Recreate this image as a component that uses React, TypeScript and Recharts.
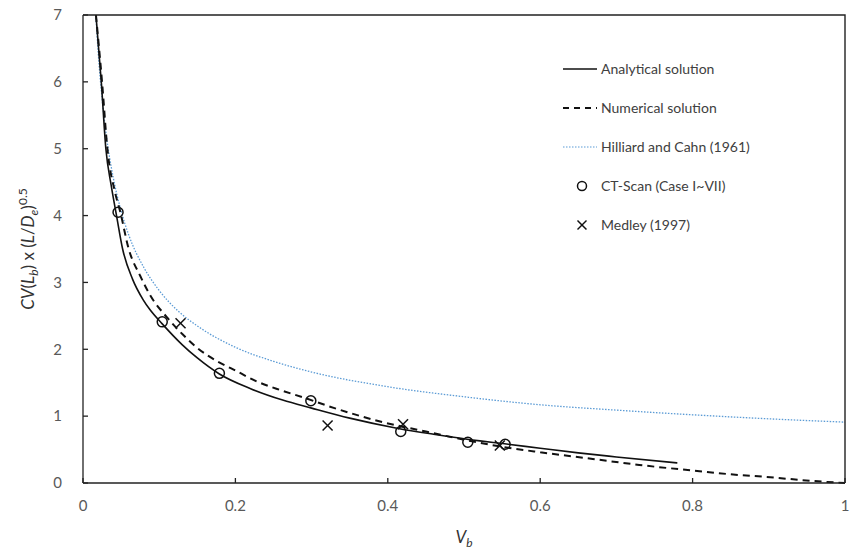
import React from 'react';
import {
  ComposedChart, Line, Scatter, XAxis, YAxis,
} from 'recharts';

// Analytical solution (solid line)
const analyticalVb = [0.017, 0.024, 0.03, 0.037, 0.044, 0.052, 0.065, 0.079, 0.088, 0.104, 0.13, 0.15, 0.179, 0.22, 0.262, 0.3, 0.35, 0.412, 0.46, 0.521, 0.551, 0.6, 0.65, 0.7, 0.78];
const analyticalCv = [7.0, 6.0, 5.0, 4.45, 4.0, 3.5, 3.05, 2.74, 2.59, 2.38, 2.07, 1.87, 1.63, 1.41, 1.24, 1.12, 0.97, 0.82, 0.73, 0.63, 0.59, 0.52, 0.45, 0.39, 0.3];

// Numerical solution (dashed line)
const numericalVb = [0.017, 0.025, 0.032, 0.042, 0.049, 0.06, 0.075, 0.088, 0.11, 0.131, 0.15, 0.176, 0.197, 0.228, 0.259, 0.289, 0.33, 0.39, 0.45, 0.486, 0.521, 0.551, 0.6, 0.669, 0.73, 0.806, 0.85, 0.897, 0.958, 1.0];
const numericalCv = [7.0, 6.0, 5.0, 4.35, 4.05, 3.5, 3.1, 2.81, 2.48, 2.22, 2.02, 1.82, 1.7, 1.52, 1.39, 1.28, 1.12, 0.92, 0.77, 0.68, 0.6, 0.54, 0.46, 0.36, 0.27, 0.18, 0.13, 0.09, 0.03, 0.0];

// Hilliard and Cahn (1961) (dotted line)
const hilliardVb = [0.0169, 0.02, 0.025, 0.03, 0.04, 0.05, 0.06, 0.08, 0.1, 0.125, 0.15, 0.2, 0.25, 0.3, 0.4, 0.5, 0.6, 0.7, 0.8, 0.9, 1.0];
const hilliardCv = [7.0, 6.43, 5.76, 5.25, 4.55, 4.07, 3.71, 3.22, 2.88, 2.57, 2.35, 2.03, 1.82, 1.66, 1.44, 1.29, 1.17, 1.09, 1.02, 0.96, 0.91];

// CT-Scan (Case I~VII)
const ctScanVb = [0.046, 0.104, 0.179, 0.299, 0.417, 0.505, 0.554];
const ctScanCv = [4.05, 2.41, 1.64, 1.23, 0.77, 0.61, 0.58];

// Medley (1997)
const medleyVb = [0.128, 0.321, 0.42, 0.547];
const medleyCv = [2.39, 0.86, 0.88, 0.56];

const xTicks = [0, 0.2, 0.4, 0.6, 0.8, 1];
const yTicks = [0, 1, 2, 3, 4, 5, 6, 7];

const zip = (xs: number[], ys: number[]) => xs.map((x, i) => ({ x, y: ys[i] }));

const analyticalData = zip(analyticalVb, analyticalCv);
const numericalData = zip(numericalVb, numericalCv);
const hilliardData = zip(hilliardVb, hilliardCv);
const ctScanData = zip(ctScanVb, ctScanCv);
const medleyData = zip(medleyVb, medleyCv);

const FONT = 'Lato, "Open Sans", sans-serif';
const AXIS = '#222';
const TICK = '#595959';
const HC_BLUE = '#5b9bd5';

// chart box
const W = 857;
const H = 553;
const M = { top: 15, right: 12, bottom: 0, left: 0 };
const Y_AXIS_W = 83;
const X_AXIS_H = 70;

function CircleMark(props: any) {
  const { cx, cy } = props;
  return <circle cx={cx} cy={cy} r={5} fill="none" stroke="#111" strokeWidth={1.5} />;
}

function CrossMark(props: any) {
  const { cx, cy } = props;
  const s = 5;
  return (
    <g stroke="#111" strokeWidth={1.5}>
      <line x1={cx - s} y1={cy - s} x2={cx + s} y2={cy + s} />
      <line x1={cx - s} y1={cy + s} x2={cx + s} y2={cy - s} />
    </g>
  );
}

function XTitle(props: any) {
  const vb = props.viewBox || { x: 83, y: 483, width: 762, height: 70 };
  const cx = vb.x + vb.width / 2;
  return (
    <text x={cx} y={vb.y + 60} textAnchor="middle" fill="#333" fontFamily={FONT} fontSize={17}>
      <tspan fontStyle="italic">V</tspan>
      <tspan fontStyle="italic" fontSize={12} dy={4}>b</tspan>
    </text>
  );
}

function YTitle(props: any) {
  const vb = props.viewBox || { x: 0, y: 15, width: 83, height: 468 };
  const cx = vb.x + 34;
  const cy = vb.y + vb.height / 2;
  return (
    <text
      x={cx}
      y={cy}
      textAnchor="middle"
      transform={`rotate(-90 ${cx} ${cy})`}
      fill="#333"
      fontFamily={FONT}
      fontSize={17}
    >
      <tspan fontStyle="italic">CV</tspan>
      <tspan>(</tspan>
      <tspan fontStyle="italic">L</tspan>
      <tspan fontStyle="italic" fontSize={12} dy={4}>b</tspan>
      <tspan dy={-4}>) x (</tspan>
      <tspan fontStyle="italic">L</tspan>
      <tspan>/</tspan>
      <tspan fontStyle="italic">D</tspan>
      <tspan fontStyle="italic" fontSize={12} dy={4}>e</tspan>
      <tspan dy={-4}>)</tspan>
      <tspan fontSize={12} dy={-7}>0.5</tspan>
    </text>
  );
}

const legendItems = [
  { label: 'Analytical solution', kind: 'solid' },
  { label: 'Numerical solution', kind: 'dashed' },
  { label: 'Hilliard and Cahn (1961)', kind: 'dotted' },
  { label: 'CT-Scan (Case I~VII)', kind: 'circle' },
  { label: 'Medley (1997)', kind: 'cross' },
];

function LegendSwatch({ kind }: { kind: string }) {
  return (
    <svg width={36} height={14} style={{ display: 'block' }}>
      {kind === 'solid' && <line x1={0} y1={7} x2={34} y2={7} stroke="#111" strokeWidth={1.5} />}
      {kind === 'dashed' && <line x1={0} y1={7} x2={34} y2={7} stroke="#111" strokeWidth={1.8} strokeDasharray="6 5" />}
      {kind === 'dotted' && <line x1={0} y1={7} x2={34} y2={7} stroke={HC_BLUE} strokeWidth={1.2} strokeDasharray="1.5 1.5" />}
      {kind === 'circle' && <circle cx={19} cy={7} r={4.5} fill="none" stroke="#111" strokeWidth={1.5} />}
      {kind === 'cross' && (
        <g stroke="#111" strokeWidth={1.5}>
          <line x1={14.5} y1={2.5} x2={23.5} y2={11.5} />
          <line x1={14.5} y1={11.5} x2={23.5} y2={2.5} />
        </g>
      )}
    </svg>
  );
}

function ChartLegend() {
  return (
    <div style={{ position: 'absolute', left: 563, top: 49, fontFamily: FONT, fontSize: 14, color: '#404040' }}>
      {legendItems.map((it) => (
        <div key={it.label} style={{ display: 'flex', alignItems: 'center', height: 39 }}>
          <LegendSwatch kind={it.kind} />
          <span style={{ marginLeft: 2 }}>{it.label}</span>
        </div>
      ))}
    </div>
  );
}

// top and right edges of the plot box (the axes draw bottom and left)
function PlotFrame() {
  const left = M.left + Y_AXIS_W;
  const top = M.top;
  const right = W - M.right;
  const bottom = H - M.bottom - X_AXIS_H;
  return (
    <svg
      width={W}
      height={H}
      style={{ position: 'absolute', left: 0, top: 0, zIndex: 5, pointerEvents: 'none' }}
    >
      <path
        d={`M${left},${top} L${right},${top} L${right},${bottom}`}
        fill="none"
        stroke={AXIS}
        strokeWidth={1.4}
      />
    </svg>
  );
}

export default function App() {
  return (
    <div style={{ position: 'absolute', left: 0, top: 0, width: W, height: H, background: '#fff' }}>
      <ComposedChart width={W} height={H} margin={M}>
        <XAxis
          type="number"
          dataKey="x"
          domain={[0, 1]}
          ticks={xTicks}
          height={X_AXIS_H}
          stroke={AXIS}
          strokeWidth={1.3}
          tickSize={-5}
          tickMargin={22}
          tick={{ fill: TICK, fontSize: 15, fontFamily: FONT }}
          label={{ content: <XTitle /> }}
        />
        <YAxis
          type="number"
          dataKey="y"
          domain={[0, 7]}
          ticks={yTicks}
          width={Y_AXIS_W}
          stroke={AXIS}
          strokeWidth={1.3}
          tickSize={-5}
          tickMargin={26}
          tick={{ fill: TICK, fontSize: 15, fontFamily: FONT }}
          label={{ content: <YTitle /> }}
        />

        <Line
          data={hilliardData}
          dataKey="y"
          type="monotone"
          stroke={HC_BLUE}
          strokeWidth={1.3}
          strokeDasharray="1.5 1.5"
          dot={false}
          isAnimationActive={false}
        />
        <Line
          data={numericalData}
          dataKey="y"
          type="monotone"
          stroke="#111"
          strokeWidth={2}
          strokeDasharray="7 5"
          dot={false}
          isAnimationActive={false}
        />
        <Line
          data={analyticalData}
          dataKey="y"
          type="monotone"
          stroke="#111"
          strokeWidth={1.6}
          dot={false}
          isAnimationActive={false}
        />
        <Scatter data={ctScanData} dataKey="y" shape={<CircleMark />} isAnimationActive={false} />
        <Scatter data={medleyData} dataKey="y" shape={<CrossMark />} isAnimationActive={false} />
      </ComposedChart>
      <PlotFrame />
      <ChartLegend />
    </div>
  );
}
